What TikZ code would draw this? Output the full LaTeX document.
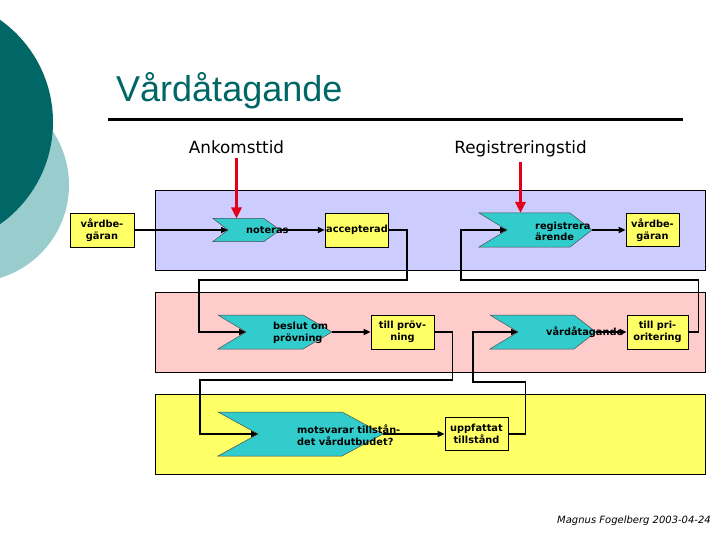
\documentclass[tikz,border=0pt]{standalone}
\usepackage{fontspec}
\setmainfont{DejaVu Sans}
\newfontfamily\titlefont{Liberation Sans}
\usepackage{tikz}
\usetikzlibrary{arrows.meta}
\definecolor{darkteal}{HTML}{006666}
\definecolor{lightteal}{HTML}{99CCCC}
\definecolor{bandblue}{HTML}{CCCCFF}
\definecolor{bandpink}{HTML}{FFCCCC}
\definecolor{bandyellow}{HTML}{FFFF66}
\definecolor{chevcyan}{HTML}{33CCCC}
\definecolor{arrowred}{HTML}{E2001A}
\tikzset{flow/.style={line width=1.8pt,-{Triangle[length=7pt,width=6pt]}}}
\tikzset{timer/.style={arrowred,line width=3pt,-{Triangle[length=11pt,width=10pt]}}}
\tikzset{box/.style={draw,line width=0.8pt,fill=bandyellow,align=center,inner sep=1pt,font=\bfseries\fontsize{9.8}{11.5}\selectfont}}
\tikzset{lbl/.style={align=left,inner sep=0pt,font=\bfseries\fontsize{9.8}{11.5}\selectfont}}
\tikzset{band/.style={draw,line width=0.8pt}}
\tikzset{heading/.style={anchor=base,inner sep=0pt,font=\fontsize{16.8}{20}\selectfont}}

% chevron: name, left, top, tip x, bottom, notch depth, point depth
\newcommand{\chevshape}[7]{%
  \filldraw[fill=chevcyan,draw=black!70,line width=0.5pt]
    (#2,#3) -- (#4-#7,#3) -- (#4,{(#3+#5)/2}) -- (#4-#7,#5) -- (#2,#5) -- (#2+#6,{(#3+#5)/2}) -- cycle;
  \coordinate (#1-in) at (#2+#6,{(#3+#5)/2});
  \coordinate (#1-out) at (#4,{(#3+#5)/2});
  \coordinate (#1-top) at ({(#2+#4-#7)/2},#3);
}

\begin{document}
\begin{tikzpicture}[x=1pt,y=-1pt,line join=miter]
\useasboundingbox (0,0) rectangle (720,540);

\begin{scope}
\clip (0,0) rectangle (720,540);
\fill[lightteal] (-28,185) circle (97pt);
\fill[darkteal] (-72,122) circle (125pt);
\end{scope}

\node[anchor=base west,inner sep=0pt,text=darkteal,font=\titlefont\fontsize{36}{40}\selectfont] (title) at (116,102) {Vårdåtagande};
\draw[line width=2.2pt] (108,119.5) -- (683,119.5);

\node[heading] (ank) at (236.5,154) {Ankomsttid};
\node[heading] (regt) at (520.5,154) {Registreringstid};

\draw[band,fill=bandblue] (155,190.5) rectangle (705.5,270);
\draw[band,fill=bandpink] (155,292.5) rectangle (705.5,372.5);
\draw[band,fill=bandyellow] (155,394) rectangle (705.5,474.5);

\chevshape{noter}{213}{218.5}{280}{241.5}{15}{16}
\chevshape{regis}{479}{213}{592}{247}{28}{22}
\chevshape{beslut}{218}{315}{332}{349}{28}{29}
\chevshape{vatag}{490}{315}{596}{349}{28}{22}
\chevshape{motsv}{218}{412}{383}{456}{40}{41}

\node[box,minimum width=64pt,minimum height=34pt] (vbA) at (102,230) {vårdbe-\\gäran};
\node[box,minimum width=62pt,minimum height=34pt] (accept) at (357,230) {accepterad};
\node[box,minimum width=53pt,minimum height=33pt] (vbB) at (652.5,230) {vårdbe-\\gäran};
\node[box,minimum width=63pt,minimum height=34pt] (tprov) at (402.5,332) {till pröv-\\ning};
\node[box,minimum width=61pt,minimum height=34pt] (tprio) at (657.5,332) {till pri-\\oritering};
\node[box,minimum width=63pt,minimum height=33pt] (uppf) at (476.5,434) {uppfattat\\tillstånd};

\draw[flow] (vbA.east) -- (noter-in);
\draw[flow] (noter-out) -- (accept.west);
\draw[flow] (accept.east) -- ++(18,0) |- (199,280) |- (beslut-in);
\draw[flow] (beslut-out) -- (tprov.west);
\draw[flow] (tprov.east) -- ++(18,0) |- (200,380) |- (motsv-in);
\draw[flow] (motsv-out) -- (uppf.west);
\draw[flow] (uppf.east) -- ++(17,0) |- (473,382) |- (vatag-in);
\draw[flow] (vatag-out) -- (tprio.west);
\draw[flow] (tprio.east) -- ++(10,0) |- (461,280) |- (regis-in);
\draw[flow] (regis-out) -- (vbB.west);

\draw[timer] ([yshift=-4pt]ank.south) -- (ank.south |- noter-top);
\draw[timer] ([yshift=-4pt]regt.south) -- (regt.south |- regis-top);

\node[lbl,anchor=west] (noter-t) at (246,230) {noteras};
\node[lbl,anchor=west] (regis-t) at (535,231.5) {registrera\\ärende};
\node[lbl,anchor=west] (beslut-t) at (273,333) {beslut om\\prövning};
\node[lbl,anchor=west] (vatag-t) at (546,332) {vårdåtagande};
\node[lbl,anchor=west] (motsv-t) at (297,435) {motsvarar tillstån-\\det vårdutbudet?};

\node[anchor=base east,inner sep=0pt,font=\itshape\fontsize{10}{12}\selectfont] (sign) at (711,523) {Magnus Fogelberg 2003-04-24};
\end{tikzpicture}
\end{document}
